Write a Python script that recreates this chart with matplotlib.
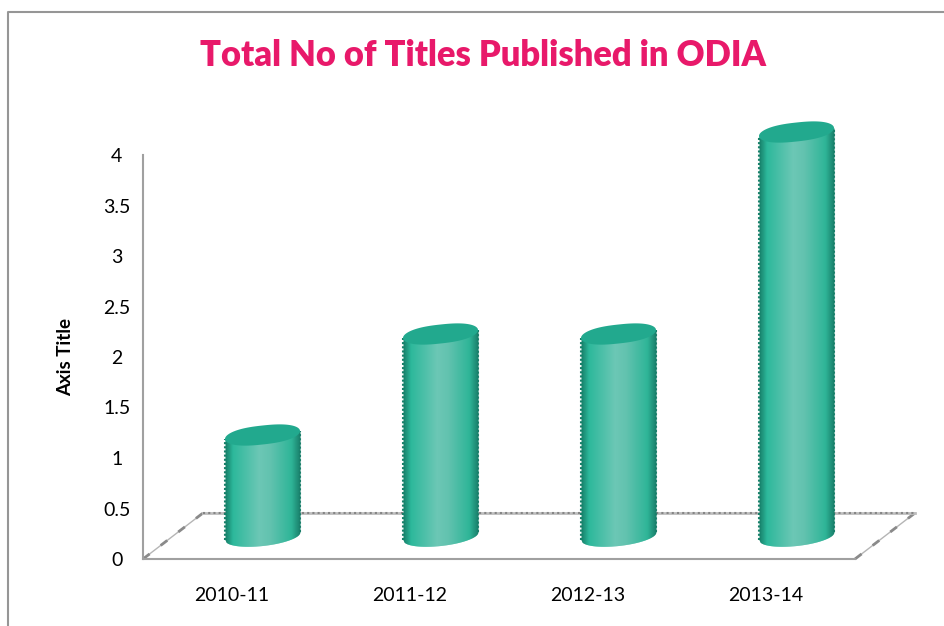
import numpy as np
import matplotlib
matplotlib.use("Agg")
import matplotlib.pyplot as plt
from matplotlib.colors import LinearSegmentedColormap
from matplotlib.lines import Line2D

# Data
years = ["2010-11", "2011-12", "2012-13", "2013-14"]
titles = [1, 2, 2, 4]
y_ticks = [0, 0.5, 1, 1.5, 2, 2.5, 3, 3.5, 4]
y_tick_labels = ["0", "0.5", "1", "1.5", "2", "2.5", "3", "3.5", "4"]

plt.rcParams["font.family"] = ["Lato", "DejaVu Sans"]

W, H = 944, 626
fig = plt.figure(figsize=(W / 100, H / 100), dpi=100)
ax = fig.add_axes([143 / W, (H - 559) / H, 712 / W, 404 / H])
ax.set_xlim(-0.5, 3.5)
ax.set_ylim(0, 4)

# Outer chart frame, open at the right and bottom
fig.add_artist(Line2D([8 / W, 8 / W, 1], [0, 1 - 12 / H, 1 - 12 / H], color="#969696", lw=1.5))

# Floor of the 3d box
depth_x, depth_y = 60 / 178, 46 / 101
for x0 in [-0.5, 3.5]:
    ax.plot([x0, x0 + depth_x], [0, depth_y], color="#b5b5b5", lw=1, clip_on=False, zorder=1)
    ax.plot([x0, x0 + depth_x], [0, depth_y], color="#8a8a8a", lw=2, ls=(0, (3, 5)), clip_on=False, zorder=1)
ax.plot([-0.5 + depth_x, 3.5 + depth_x], [depth_y, depth_y], color="#bdbdbd", lw=2, clip_on=False, zorder=1)
ax.plot([-0.5 + depth_x, 3.5 + depth_x], [depth_y, depth_y], color="#858585", lw=1.5, ls=(0, (1, 1.5)), clip_on=False, zorder=1)

# Cylinders
shade = LinearSegmentedColormap.from_list(
    "cyl",
    [(0, "#178069"), (0.1, "#2cb89b"), (0.45, "#6cc7b5"), (0.6, "#62c2af"), (0.88, "#2fb598"), (1, "#1a7f6b")],
)
off_x = 30.5 / 178
base_y = 23 / 101
a = 37.5 / 178
b = 9.5 / 101
tilt = 4 / 101
edges = np.linspace(-1, 1, 76)
step = edges[1] - edges[0]

for i, v in enumerate(titles):
    cx = i + off_x
    top = base_y + v
    for u0 in edges[:-1]:
        # slices overlap a little so no white gaps show between them
        u = np.array([u0, min(u0 + 1.6 * step, 1)])
        xs = cx + a * u
        low = base_y + tilt * u - b * np.sqrt(1 - u ** 2)
        high = top + tilt * u
        ax.fill_between(xs, low, high, color=shade((u0 + step / 2 + 1) / 2), lw=0,
                        antialiased=False, clip_on=False, zorder=2)
    # rough jagged sides like the low-res original
    ax.plot([cx + a, cx + a], [base_y + tilt, top + tilt], color="#1a7f6b", lw=1.5, ls=(0, (1, 1)),
            clip_on=False, zorder=2)
    ax.plot([cx - a, cx - a], [base_y - tilt, top - tilt], color="#178069", lw=1.5, ls=(0, (1, 1)),
            clip_on=False, zorder=2)
    # top cap, a bit blunter than a true ellipse
    t = np.linspace(0, 2 * np.pi, 160)
    cap_x = np.sign(np.cos(t)) * np.abs(np.cos(t)) ** 0.8
    ax.fill(cx + a * cap_x, top + tilt * cap_x + b * np.sin(t), color="#22a98e", lw=0,
            clip_on=False, zorder=3)

# Axes styling
for side in ["top", "right"]:
    ax.spines[side].set_visible(False)
for side in ["left", "bottom"]:
    ax.spines[side].set_color("#a0a0a0")
    ax.spines[side].set_linewidth(1.5)

ax.set_xticks(range(len(years)))
ax.set_xticklabels(years, fontsize=14, color="black")
ax.set_yticks(y_ticks)
ax.set_yticklabels(y_tick_labels, fontsize=14, color="black", ha="center")
ax.tick_params(axis="x", length=0, pad=20)
ax.tick_params(axis="y", length=0, pad=19)

ax.set_ylabel("Axis Title", fontsize=13.5, fontweight="bold")
ax.yaxis.set_label_coords((74 - 143) / 712, (559 - 357) / 404)

fig.text(482.5 / W, 1 - 56 / H, "Total No of Titles Published in ODIA", fontsize=24.85, fontweight="heavy",
         color="#e8196a", ha="center", va="center")

plt.savefig("out.png", dpi=100)
